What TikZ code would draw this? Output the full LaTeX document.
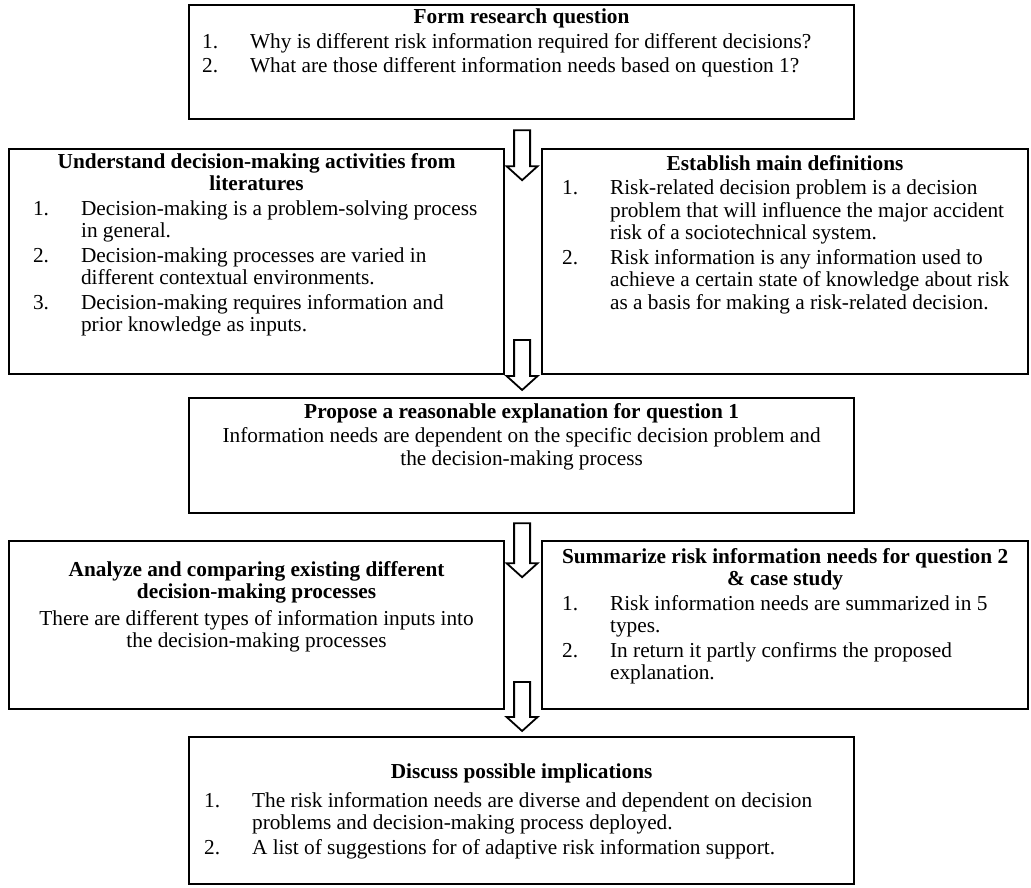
\documentclass[tikz,border=0pt]{standalone}
\usepackage{fontspec}
\setmainfont{Liberation Serif}
\usetikzlibrary{calc}

% numbered entry with hanging indent
\newlength{\numgap}\setlength{\numgap}{48pt}
\newlength{\itemgap}\setlength{\itemgap}{2pt}
\newcommand{\entry}[2]{\par\vspace{\itemgap}\hangindent=\numgap\hangafter=1\noindent\makebox[\numgap][l]{#1}#2\par}
% fixed-size, top-aligned box content: width, height, top padding, body
\newcommand{\boxtext}[4]{\parbox[c][#2][t]{#1}{\fontsize{21.3}{22.5}\selectfont
  \parindent=0pt\parskip=0pt\rightskip=0pt plus 1fil\vspace*{#3}#4}}
\newcommand{\boxtitle}[1]{{\centering\bfseries #1\par}}

\tikzset{
  box/.style={draw, line width=2.2pt, inner sep=0pt, anchor=north west},
  hollow/.style={draw, line width=1.8pt, fill=white, line join=miter,
    to path={let \p1=(\tikztostart), \p2=(\tikztotarget) in
      (\x1-8pt,\y1) -- (\x1+8pt,\y1) -- (\x1+8pt,\y2+14pt) -- (\x1+15.5pt,\y2+14pt)
      -- (\x1,\y2) -- (\x1-15.5pt,\y2+14pt) -- (\x1-8pt,\y2+14pt) -- cycle}},
}

\begin{document}
\begin{tikzpicture}[x=1pt, y=-1pt]
\useasboundingbox (0,0) rectangle (1031,887);

\node[box] (question) at (188,4) {\boxtext{665pt}{114pt}{4pt}{%
  \boxtitle{Form research question}\leftskip=13pt
  \entry{1.}{Why is different risk information required for different decisions?}
  \entry{2.}{What are those different information needs based on question 1?}}};

\node[box] (literature) at (8,148) {\boxtext{495pt}{225pt}{4pt}{%
  \boxtitle{Understand decision-making activities from\\ literatures}\leftskip=24pt
  \entry{1.}{Decision-making is a problem-solving process\newline in general.}
  \entry{2.}{Decision-making processes are varied in\newline different contextual environments.}
  \entry{3.}{Decision-making requires information and\newline prior knowledge as inputs.}}};

\node[box] (definitions) at (541,148) {\boxtext{486pt}{225pt}{6pt}{%
  \boxtitle{Establish main definitions}\leftskip=20pt
  \entry{1.}{Risk-related decision problem is a decision\newline problem that will influence the major accident\newline risk of a sociotechnical system.}
  \entry{2.}{Risk information is any information used to\newline achieve a certain state of knowledge about risk\newline as a basis for making a risk-related decision.}}};

\node[box] (explain) at (188,397) {\boxtext{665pt}{115pt}{5pt}{%
  \boxtitle{Propose a reasonable explanation for question 1}\vspace{2pt}
  {\centering Information needs are dependent on the specific decision problem and\\ the decision-making process\par}}};

\node[box] (compare) at (8,540) {\boxtext{495pt}{168pt}{20pt}{%
  \boxtitle{Analyze and comparing existing different\\ decision-making processes}\vspace{4pt}
  {\centering There are different types of information inputs into\\ the decision-making processes\par}}};

\node[box] (summary) at (541,540) {\boxtext{486pt}{168pt}{7pt}{%
  \boxtitle{Summarize risk information needs for question 2\\ \& case study}\leftskip=20pt
  \entry{1.}{Risk information needs are summarized in 5\newline types.}
  \entry{2.}{In return it partly confirms the proposed\newline explanation.}}};

\node[box] (implications) at (188,736) {\boxtext{665pt}{147pt}{27pt}{%
  \boxtitle{Discuss possible implications}\leftskip=15pt\vspace{4pt}
  \entry{1.}{The risk information needs are diverse and dependent on decision\newline problems and decision-making process deployed.}
  \entry{2.}{A list of suggestions for of adaptive risk information support.}}};

% hollow block arrows between the stages
\coordinate (a1s) at ($(question.south)+(0.5,10)$);
\coordinate (a1e) at ($(question.south)+(0.5,60)$);
\coordinate (a2s) at ($(explain.north)+(0.5,-57)$);
\coordinate (a2e) at ($(explain.north)+(0.5,-7)$);
\coordinate (a3s) at ($(explain.south)+(0.5,9)$);
\coordinate (a3e) at ($(explain.south)+(0.5,63)$);
\coordinate (a4s) at ($(implications.north)+(0.5,-54)$);
\coordinate (a4e) at ($(implications.north)+(0.5,-5)$);

\draw[hollow] (a1s) to (a1e);
\draw[hollow] (a2s) to (a2e);
\draw[hollow] (a3s) to (a3e);
\draw[hollow] (a4s) to (a4e);
\end{tikzpicture}
\end{document}
